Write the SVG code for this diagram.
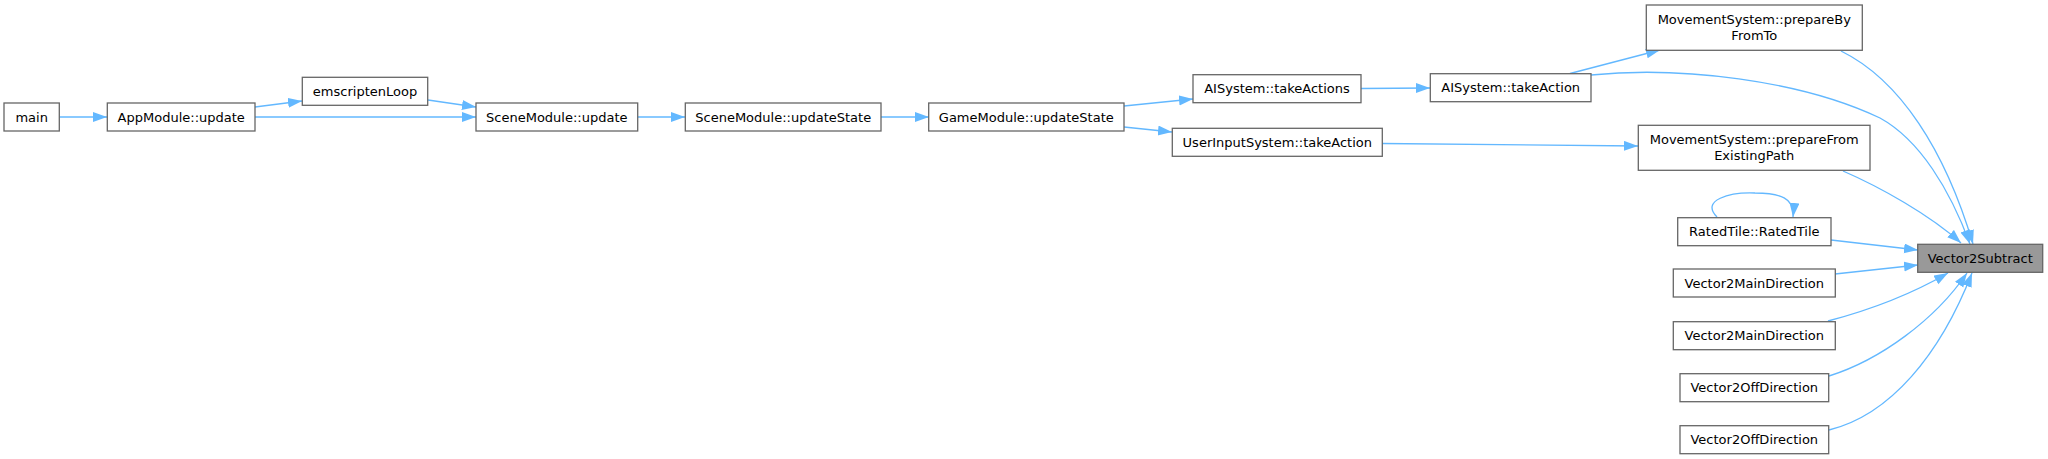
<svg xmlns="http://www.w3.org/2000/svg" width="2048" height="459" viewBox="0 0 2048 459">
<style>
  .node rect { fill: #ffffff; stroke: #666666; stroke-width: 1.3; }
  .node.hl rect { fill: #999999; }
  .node text { font-family: "DejaVu Sans", "Liberation Sans", sans-serif; font-size: 13px; fill: #000000; text-anchor: middle; }
  #edges path { fill: none; stroke: #63b8ff; stroke-width: 1.33; marker-end: url(#ah); }
</style>
<defs>
  <marker id="ah" markerUnits="userSpaceOnUse" markerWidth="15" markerHeight="11" refX="14" refY="5" orient="auto">
    <path d="M0,0 L14,5 L0,10 Z" fill="#63b8ff" stroke="none"/>
  </marker>
</defs>
<rect x="0" y="0" width="2048" height="459" fill="#ffffff"/>
<g id="edges">
  <path d="M59,117 L107,117"/>
  <path d="M255,107 L302,101"/>
  <path d="M428,100 L476,107"/>
  <path d="M255,117 L476,117"/>
  <path d="M638,117 L685,117"/>
  <path d="M881,117 L929,117"/>
  <path d="M1124,106 L1193,99"/>
  <path d="M1124,127 L1172,132"/>
  <path d="M1361,88.5 L1430,88"/>
  <path d="M1570,73.5 L1660,50"/>
  <path d="M1382,143.5 L1638,146"/>
  <path d="M1591,75 C1680,66 1800,80 1880,118 C1920,140 1950,190 1970,244"/>
  <path d="M1841,51 C1900,80 1945,150 1973,244"/>
  <path d="M1843,171 C1880,187 1930,215 1961,243"/>
  <path d="M1717,217 C1700,200 1730,192 1755,193 C1780,193 1795,198 1793,217"/>
  <path d="M1831,240 L1918,250"/>
  <path d="M1835,274 L1918,265"/>
  <path d="M1828,321 C1870,310 1910,295 1948,273"/>
  <path d="M1829,376 C1880,360 1935,320 1967,273"/>
  <path d="M1829,430 C1890,415 1940,355 1972,273"/>
</g>
<g id="n_main" class="node"><rect x="4" y="103" width="55.3" height="28"/><text x="31.7" y="121.5">main</text></g>
<g id="n_appmodule_update" class="node"><rect x="107.3" y="103" width="147.7" height="28"/><text x="181.2" y="121.5">AppModule::update</text></g>
<g id="n_emscriptenloop" class="node"><rect x="302.3" y="77.3" width="125.4" height="28"/><text x="365" y="95.8">emscriptenLoop</text></g>
<g id="n_scenemodule_update" class="node"><rect x="476" y="103" width="161.7" height="28"/><text x="556.8" y="121.5">SceneModule::update</text></g>
<g id="n_scenemodule_updatestate" class="node"><rect x="685.3" y="103" width="195.7" height="28"/><text x="783.2" y="121.5">SceneModule::updateState</text></g>
<g id="n_gamemodule_updatestate" class="node"><rect x="928.7" y="103" width="195.3" height="28"/><text x="1026.3" y="121.5">GameModule::updateState</text></g>
<g id="n_aisystem_takeactions" class="node"><rect x="1193" y="74.7" width="168" height="28"/><text x="1277" y="93.2">AISystem::takeActions</text></g>
<g id="n_userinputsystem_takeaction" class="node"><rect x="1172.3" y="128.3" width="210" height="28"/><text x="1277.3" y="146.8">UserInputSystem::takeAction</text></g>
<g id="n_aisystem_takeaction" class="node"><rect x="1430.3" y="73.7" width="160.7" height="28"/><text x="1510.7" y="92.2">AISystem::takeAction</text></g>
<g id="n_prepare_by_from_to" class="node"><rect x="1646.3" y="5" width="216" height="45.3"/><text x="1754.3" y="23.5">MovementSystem::prepareBy</text><text x="1754.3" y="39.5">FromTo</text></g>
<g id="n_prepare_from_existing_path" class="node"><rect x="1638.3" y="125.3" width="231.7" height="45"/><text x="1754.2" y="143.8">MovementSystem::prepareFrom</text><text x="1754.2" y="159.8">ExistingPath</text></g>
<g id="n_ratedtile" class="node"><rect x="1677.7" y="217.7" width="153.3" height="28"/><text x="1754.3" y="236.2">RatedTile::RatedTile</text></g>
<g id="n_v2maindirection_1" class="node"><rect x="1673.3" y="269" width="162" height="28"/><text x="1754.3" y="287.5">Vector2MainDirection</text></g>
<g id="n_v2maindirection_2" class="node"><rect x="1673.3" y="321.7" width="162" height="28"/><text x="1754.3" y="340.2">Vector2MainDirection</text></g>
<g id="n_v2offdirection_1" class="node"><rect x="1680" y="373.7" width="148.7" height="28"/><text x="1754.3" y="392.2">Vector2OffDirection</text></g>
<g id="n_v2offdirection_2" class="node"><rect x="1680" y="425.7" width="148.7" height="28"/><text x="1754.3" y="444.2">Vector2OffDirection</text></g>
<g id="n_vector2subtract" class="node hl"><rect x="1917.7" y="244.3" width="125" height="28"/><text x="1980.2" y="262.8">Vector2Subtract</text></g>
</svg>
